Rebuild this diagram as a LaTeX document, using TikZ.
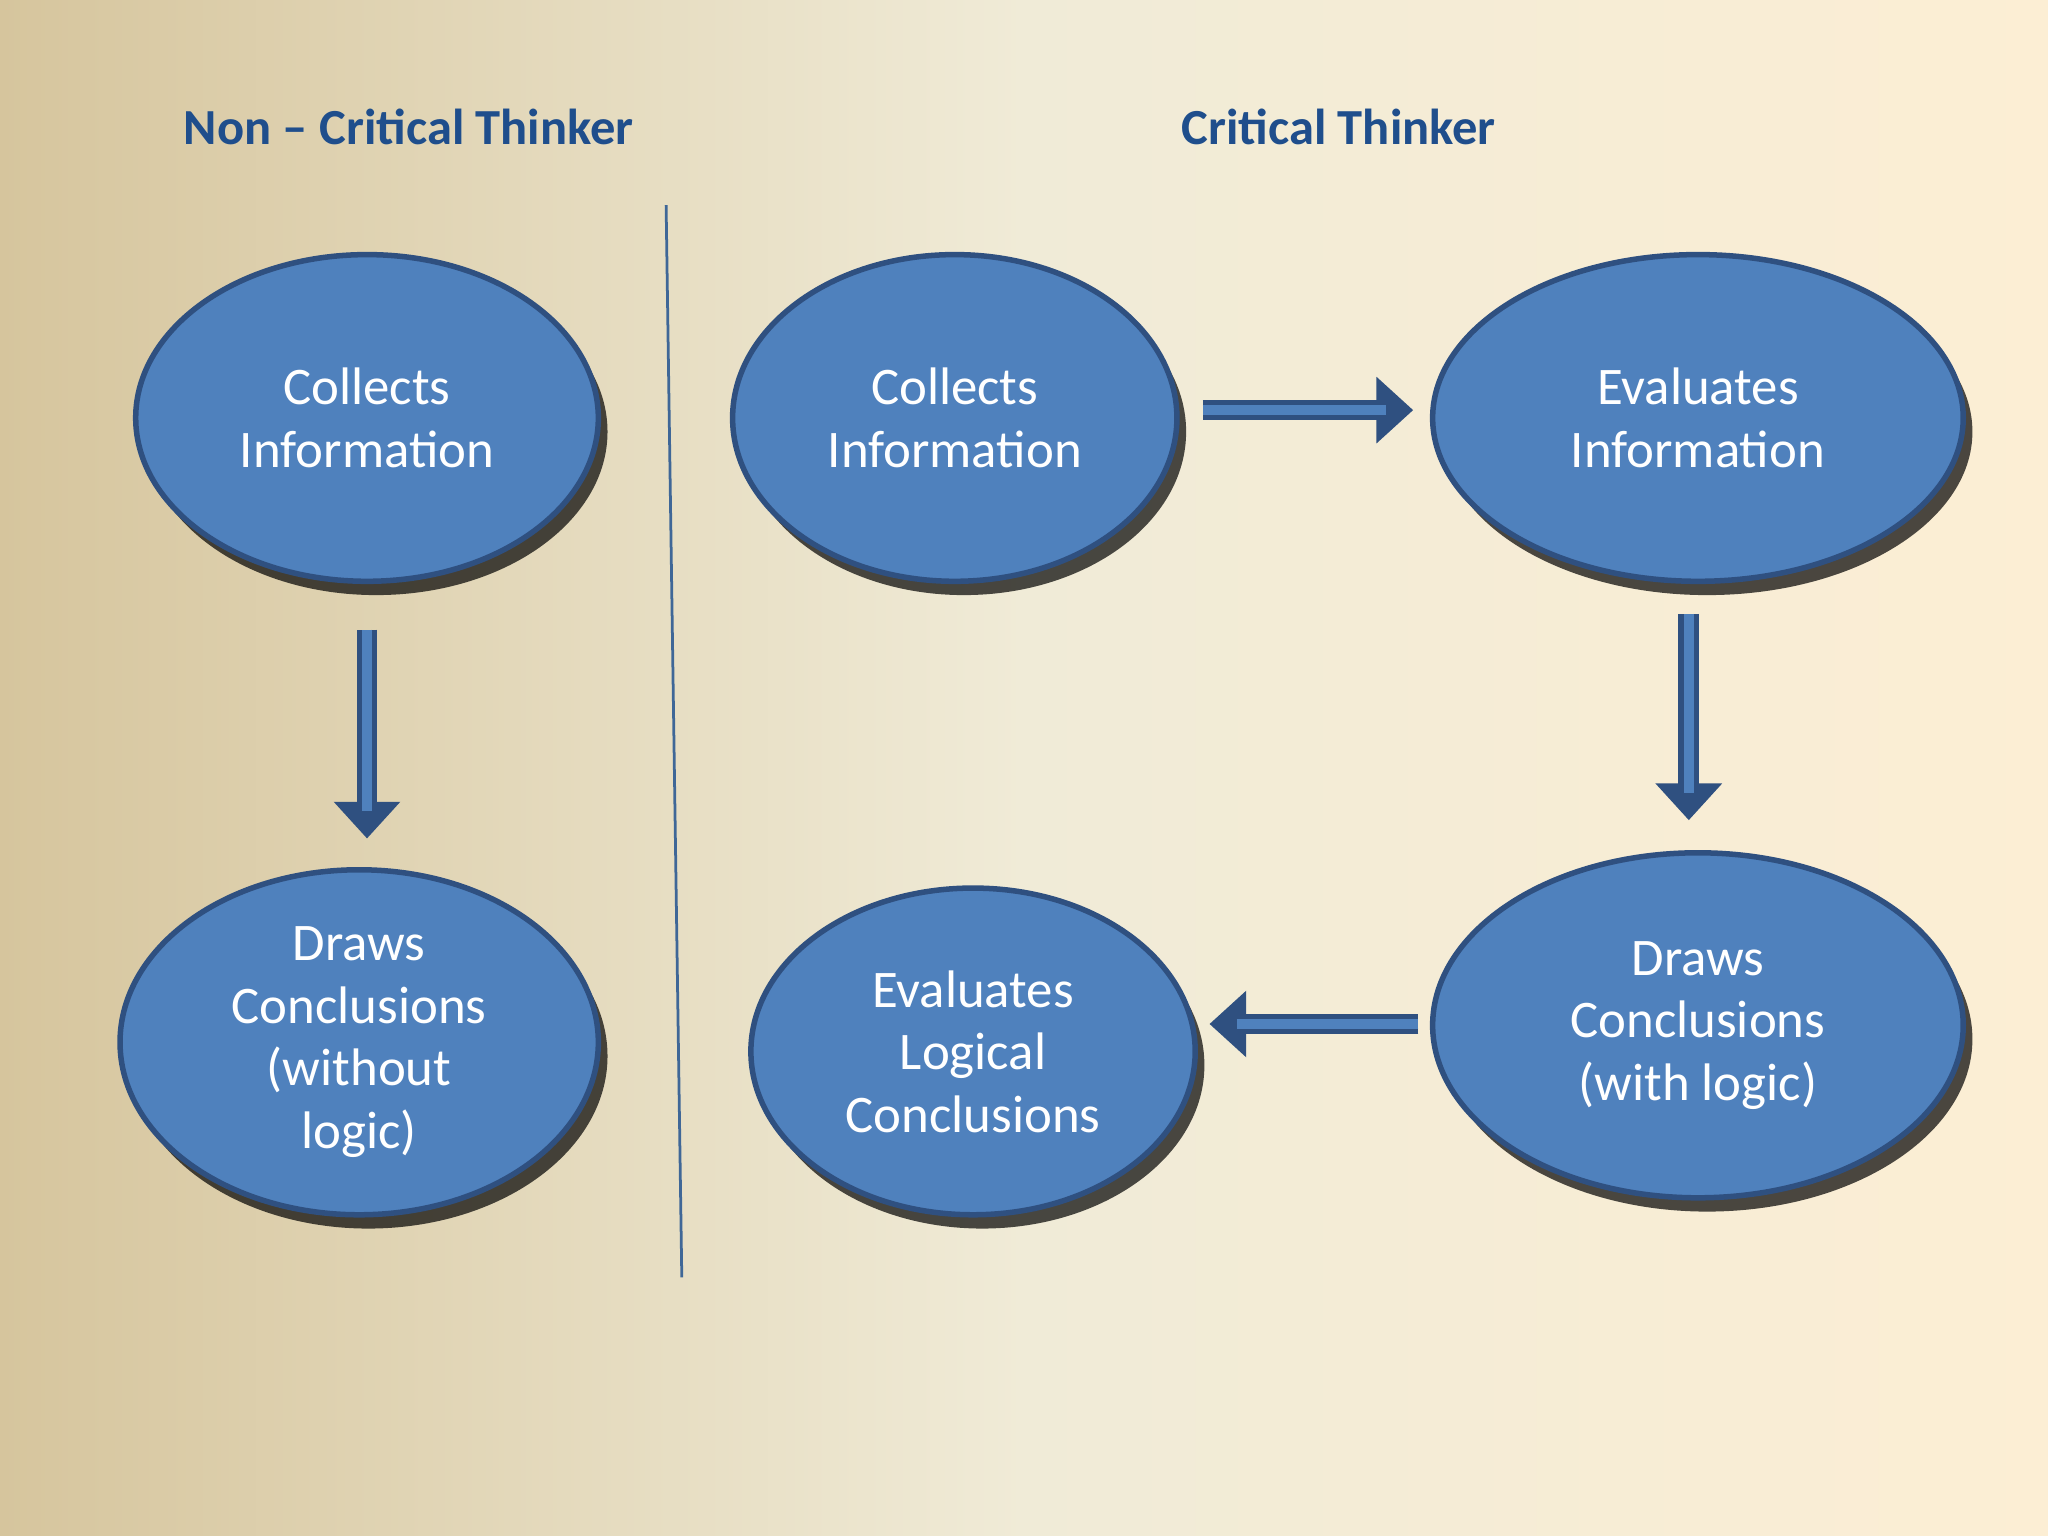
\documentclass[tikz,border=0pt]{standalone}
\usepackage{fontspec}
\setmainfont{Carlito}
\usetikzlibrary{shapes.geometric,shadows,arrows.meta}
\definecolor{nodeblue}{HTML}{4F81BD}
\definecolor{edgeblue}{HTML}{2F5080}
\definecolor{titleblue}{HTML}{1F4E8C}
\begin{document}
\begin{tikzpicture}[x=0.01cm,y=-0.01cm,
  bub/.style={ellipse,fill=nodeblue,draw=edgeblue,line width=1.2pt,text=white,align=center,
    font=\fontsize{11.5pt}{13.6pt}\selectfont,inner sep=0pt,
    drop shadow={shadow xshift=2pt,shadow yshift=-3pt,opacity=.7,fill=black}},
  arr/.style={draw=edgeblue,line width=4.5pt,-{Triangle[width=14pt,length=8pt]},
    postaction={draw=nodeblue,line width=2.2pt,shorten >=6pt,-}},
  ttl/.style={text=titleblue,font=\bfseries\fontsize{11pt}{13pt}\selectfont}]
\shade[left color={rgb,255:red,214;green,197;blue,157},right color={rgb,255:red,252;green,238;blue,212},middle color={rgb,255:red,240;green,235;blue,215}] (0,0) rectangle (1568,1176);
\useasboundingbox (0,0) rectangle (1568,1176);
\node[ttl] (t1) at (313,97) {Non – Critical Thinker};
\node[ttl] (t2) at (1025,97) {Critical Thinker};
\coordinate (d1) at (510,157); \coordinate (d2) at (522,978);
\draw[nodeblue!80!black,line width=0.6pt] (d1) -- (d2);
\node[bub,minimum width=3.54cm,minimum height=2.5cm] (a) at (281,320) {Collects\\Information};
\node[bub,minimum width=3.66cm,minimum height=2.64cm] (b) at (275,798) {Draws\\Conclusions\\(without\\logic)};
\node[bub,minimum width=3.4cm,minimum height=2.5cm] (c) at (731,320) {Collects\\Information};
\node[bub,minimum width=4.06cm,minimum height=2.5cm] (d) at (1300,320) {Evaluates\\Information};
\node[bub,minimum width=4.06cm,minimum height=2.64cm] (e) at (1300,785) {Draws\\Conclusions\\(with logic)};
\node[bub,minimum width=3.4cm,minimum height=2.5cm] (f) at (745,805) {Evaluates\\Logical\\Conclusions};
\coordinate (p1) at (281,482); \coordinate (p2) at (281,642);
\coordinate (q1) at (921,314); \coordinate (q2) at (1082,314);
\coordinate (r1) at (1293,470); \coordinate (r2) at (1293,628);
\coordinate (s1) at (1086,784); \coordinate (s2) at (926,784);
\draw[arr] (p1) -- (p2);
\draw[arr] (q1) -- (q2);
\draw[arr] (r1) -- (r2);
\draw[arr] (s1) -- (s2);
\end{tikzpicture}
\end{document}
